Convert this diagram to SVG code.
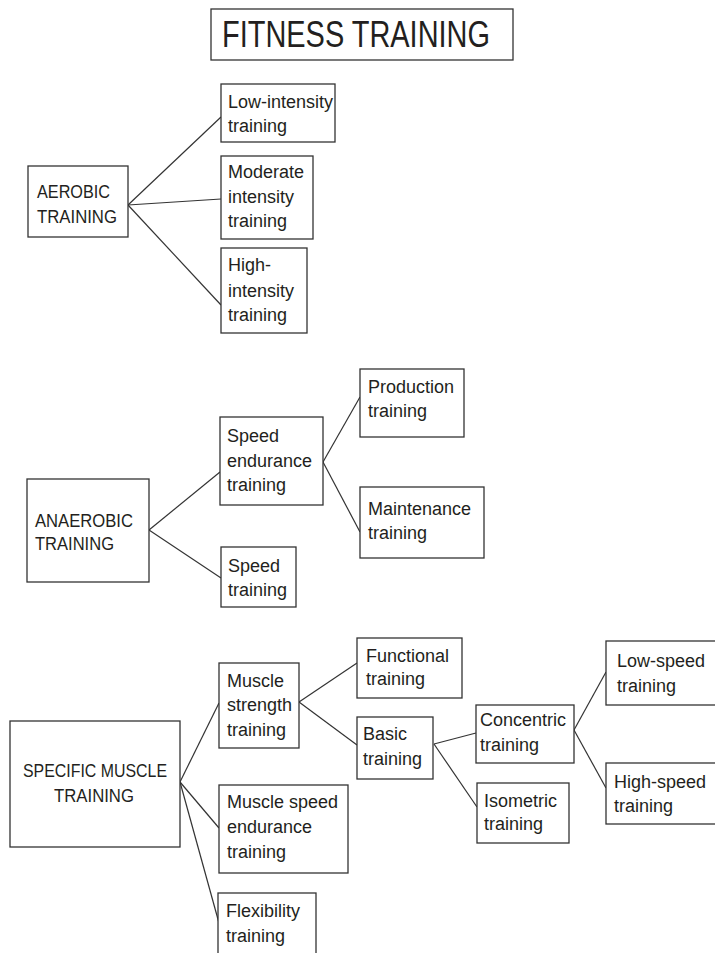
<svg xmlns="http://www.w3.org/2000/svg" width="715" height="953" viewBox="0 0 715 953">
<style>
.box{fill:#fff;stroke:#333;stroke-width:1.3}
.t{font-family:"Liberation Sans",Arial,sans-serif;font-size:18px;fill:#231f20}
.title{font-family:"Liberation Sans",Arial,sans-serif;font-size:36px;fill:#231f20}
.c line{stroke:#333;stroke-width:1.2}
</style>
<rect width="715" height="953" fill="#fff"/>
<g id="connectors" class="c">
<line x1="128" y1="205" x2="221" y2="117"/>
<line x1="128" y1="205" x2="221" y2="199"/>
<line x1="128" y1="205" x2="221" y2="305"/>
<line x1="149" y1="530" x2="220" y2="472"/>
<line x1="149" y1="530" x2="221" y2="578"/>
<line x1="323" y1="462" x2="360" y2="397"/>
<line x1="323" y1="462" x2="360" y2="532"/>
<line x1="180" y1="782" x2="219" y2="703"/>
<line x1="180" y1="782" x2="219" y2="828"/>
<line x1="180" y1="782" x2="219" y2="923"/>
<line x1="299" y1="702" x2="357" y2="663"/>
<line x1="299" y1="702" x2="357" y2="745"/>
<line x1="434" y1="744" x2="476" y2="733"/>
<line x1="434" y1="744" x2="477" y2="807"/>
<line x1="574" y1="730" x2="606" y2="672"/>
<line x1="574" y1="730" x2="606" y2="788"/>
</g>
<g id="title">
<rect class="box" x="211" y="9" width="302" height="51"/>
<text class="title" x="222" y="47" textLength="268" lengthAdjust="spacingAndGlyphs">FITNESS TRAINING</text>
</g>
<g id="aerobic">
<rect class="box" x="28" y="166" width="100" height="71"/>
<text class="t" x="37" y="198" textLength="73" lengthAdjust="spacingAndGlyphs">AEROBIC</text>
<text class="t" x="37" y="223" textLength="80" lengthAdjust="spacingAndGlyphs">TRAINING</text>
</g>
<g id="low-intensity">
<rect class="box" x="221" y="84" width="114" height="58"/>
<text class="t" x="228" y="108">Low-intensity</text>
<text class="t" x="228" y="132">training</text>
</g>
<g id="moderate">
<rect class="box" x="221" y="156" width="92" height="83"/>
<text class="t" x="228" y="178">Moderate</text>
<text class="t" x="228" y="203">intensity</text>
<text class="t" x="228" y="227">training</text>
</g>
<g id="high-intensity">
<rect class="box" x="221" y="248" width="86" height="85"/>
<text class="t" x="228" y="271">High-</text>
<text class="t" x="228" y="297">intensity</text>
<text class="t" x="228" y="321">training</text>
</g>
<g id="anaerobic">
<rect class="box" x="27" y="479" width="122" height="103"/>
<text class="t" x="35" y="527" textLength="98" lengthAdjust="spacingAndGlyphs">ANAEROBIC</text>
<text class="t" x="35" y="550" textLength="79" lengthAdjust="spacingAndGlyphs">TRAINING</text>
</g>
<g id="speed-endurance">
<rect class="box" x="220" y="417" width="103" height="88"/>
<text class="t" x="227" y="442">Speed</text>
<text class="t" x="227" y="467">endurance</text>
<text class="t" x="227" y="491">training</text>
</g>
<g id="speed">
<rect class="box" x="221" y="547" width="75" height="60"/>
<text class="t" x="228" y="572">Speed</text>
<text class="t" x="228" y="596">training</text>
</g>
<g id="production">
<rect class="box" x="360" y="369" width="104" height="68"/>
<text class="t" x="368" y="393">Production</text>
<text class="t" x="368" y="417">training</text>
</g>
<g id="maintenance">
<rect class="box" x="360" y="487" width="124" height="71"/>
<text class="t" x="368" y="515">Maintenance</text>
<text class="t" x="368" y="539">training</text>
</g>
<g id="specific">
<rect class="box" x="10" y="721" width="170" height="126"/>
<text class="t" x="23" y="777" textLength="144" lengthAdjust="spacingAndGlyphs">SPECIFIC MUSCLE</text>
<text class="t" x="54" y="802" textLength="80" lengthAdjust="spacingAndGlyphs">TRAINING</text>
</g>
<g id="muscle-strength">
<rect class="box" x="219" y="663" width="80" height="85"/>
<text class="t" x="227" y="687">Muscle</text>
<text class="t" x="227" y="711">strength</text>
<text class="t" x="227" y="736">training</text>
</g>
<g id="muscle-speed">
<rect class="box" x="219" y="785" width="129" height="88"/>
<text class="t" x="227" y="808">Muscle speed</text>
<text class="t" x="227" y="833">endurance</text>
<text class="t" x="227" y="858">training</text>
</g>
<g id="flexibility">
<rect class="box" x="218" y="893" width="98" height="70"/>
<text class="t" x="226" y="917">Flexibility</text>
<text class="t" x="226" y="942">training</text>
</g>
<g id="functional">
<rect class="box" x="357" y="638" width="105" height="60"/>
<text class="t" x="366" y="662">Functional</text>
<text class="t" x="366" y="685">training</text>
</g>
<g id="basic">
<rect class="box" x="357" y="717" width="76" height="62"/>
<text class="t" x="363" y="740">Basic</text>
<text class="t" x="363" y="765">training</text>
</g>
<g id="concentric">
<rect class="box" x="476" y="705" width="98" height="58"/>
<text class="t" x="480" y="726">Concentric</text>
<text class="t" x="480" y="751">training</text>
</g>
<g id="isometric">
<rect class="box" x="477" y="783" width="92" height="60"/>
<text class="t" x="484" y="807">Isometric</text>
<text class="t" x="484" y="830">training</text>
</g>
<g id="low-speed">
<rect class="box" x="606" y="641" width="120" height="64"/>
<text class="t" x="617" y="667">Low-speed</text>
<text class="t" x="617" y="692">training</text>
</g>
<g id="high-speed">
<rect class="box" x="606" y="763" width="120" height="61"/>
<text class="t" x="614" y="788">High-speed</text>
<text class="t" x="614" y="812">training</text>
</g>
</svg>
